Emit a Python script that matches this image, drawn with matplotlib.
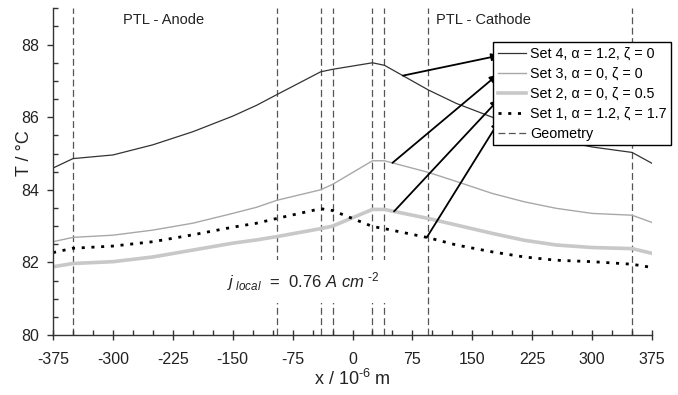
import numpy as np
import matplotlib
matplotlib.use('Agg')
import matplotlib.pyplot as plt
from matplotlib.ticker import MultipleLocator

plt.rcParams['font.family'] = ['Liberation Sans', 'DejaVu Sans']
plt.rcParams['mathtext.fontset'] = 'custom'
plt.rcParams['mathtext.rm'] = 'Liberation Sans'
plt.rcParams['mathtext.it'] = 'Liberation Sans:italic'
plt.rcParams['axes.unicode_minus'] = False

# positions across the cell, 10^-6 m
x = [-375, -350, -300, -250, -200, -150, -120, -95, -40, -25,
     25, 40, 95, 130, 175, 215, 255, 300, 350, 375]

# temperatures in degC
set4 = [84.60, 84.86, 84.96, 85.24, 85.60, 86.03, 86.33, 86.62, 87.25, 87.32,
        87.50, 87.43, 86.75, 86.38, 86.00, 85.66, 85.38, 85.18, 85.03, 84.73]
set3 = [82.57, 82.69, 82.75, 82.89, 83.08, 83.35, 83.52, 83.71, 84.00, 84.15,
        84.80, 84.80, 84.48, 84.23, 83.90, 83.67, 83.49, 83.35, 83.30, 83.10]
set2 = [81.88, 81.97, 82.02, 82.15, 82.34, 82.53, 82.62, 82.71, 82.93, 83.00,
        83.46, 83.46, 83.21, 83.03, 82.80, 82.61, 82.48, 82.41, 82.38, 82.25]
set1 = [82.27, 82.39, 82.45, 82.57, 82.76, 82.97, 83.08, 83.21, 83.48, 83.43,
        82.99, 82.93, 82.68, 82.48, 82.29, 82.15, 82.06, 82.02, 81.95, 81.86]

geometry = [-350, -95, -40, -25, 25, 40, 95, 350]

labels = ['Set 4, α = 1.2, ζ = 0', 'Set 3, α = 0, ζ = 0',
          'Set 2, α = 0, ζ = 0.5', 'Set 1, α = 1.2, ζ = 1.7', 'Geometry']

# arrows: x where the arrow leaves the curve, and target point by the legend
arrow_from_x = [63, 50, 52, 93]
arrow_to = [(183.5, 87.70), (181.5, 87.17), (183.0, 86.49), (183.5, 85.89)]

fig = plt.figure(figsize=(6.78, 3.95), dpi=100)
ax = fig.add_axes([0.0782, 0.1519, 0.8835, 0.827])

geo_style = dict(color='#555555', lw=0.9, ls=(0, (5.5, 2.8)), zorder=1)
for g in geometry:
    ax.axvline(g, **geo_style)

l4, = ax.plot(x, set4, color='#333333', lw=0.9, zorder=2)
l3, = ax.plot(x, set3, color='#a8a8a8', lw=1.0, zorder=2)
l2, = ax.plot(x, set2, color='#c8c8c8', lw=2.6, zorder=2)
l1, = ax.plot(x, set1, color='black', lw=2.0, ls=(0, (1.1, 2.4)), zorder=2)
lg, = ax.plot([], [], **geo_style)

ax.set_xlim(-375, 375)
ax.set_ylim(80, 89)
ax.set_xticks(np.arange(-375, 376, 75))
ax.set_yticks(np.arange(80, 89, 2))
ax.xaxis.set_minor_locator(MultipleLocator(25))
ax.yaxis.set_minor_locator(MultipleLocator(0.5))

for s in ['top', 'right']:
    ax.spines[s].set_visible(False)
for s in ['left', 'bottom']:
    ax.spines[s].set_color('#333333')
    ax.spines[s].set_linewidth(1.0)

ax.tick_params(axis='x', which='major', direction='inout', length=7, width=1,
               color='#333333', labelsize=11.5, pad=9, labelcolor='#222222')
ax.tick_params(axis='x', which='minor', direction='in', length=3.5, width=1,
               color='#333333')
ax.tick_params(axis='y', which='major', direction='out', length=4.5, width=1,
               color='#333333', labelsize=11.5, pad=5.5, labelcolor='#222222')
ax.tick_params(axis='y', which='minor', direction='in', length=3.5, width=1,
               color='#333333')

ax.set_xlabel('x / 10$^{\u2010 6}$ m', fontsize=13, color='#222222', labelpad=1)
ax.set_ylabel('T / °C', fontsize=13, color='#222222')
ax.yaxis.set_label_coords(-0.034, 0.557)

ax.text(-236, 88.67, 'PTL - Anode', fontsize=10.5, ha='center', va='center',
        color='#222222')
ax.text(105, 88.67, 'PTL - Cathode', fontsize=10.5, ha='left', va='center',
        color='#222222')
ax.text(-157, 81.31, '$j_{\\ local}$  =  0.76 $A\\ cm^{\\ \u20102}$', fontsize=12,
        ha='left', va='baseline', color='#222222', zorder=3,
        bbox=dict(fc='white', ec='none', pad=7))

leg = fig.legend([l4, l3, l2, l1, lg], labels, loc='upper left',
                 bbox_to_anchor=(493 / 678, 1 - 42 / 395), borderaxespad=0,
                 fontsize=10.3, frameon=True, fancybox=False, framealpha=1,
                 edgecolor='black', handlelength=2.0, handletextpad=0.25,
                 borderpad=0.32, labelspacing=0.42)
leg.get_frame().set_linewidth(1.0)
leg.set_zorder(5)

for xs, ys, tgt in zip(arrow_from_x, [set4, set3, set2, set1], arrow_to):
    y0 = np.interp(xs, x, ys)
    ax.annotate('', xy=tgt, xytext=(xs, y0), xycoords='data',
                arrowprops=dict(arrowstyle='-|>', color='black', lw=1.3,
                                mutation_scale=11, shrinkA=0, shrinkB=0),
                zorder=6)

fig.savefig('out.png', dpi=100)
